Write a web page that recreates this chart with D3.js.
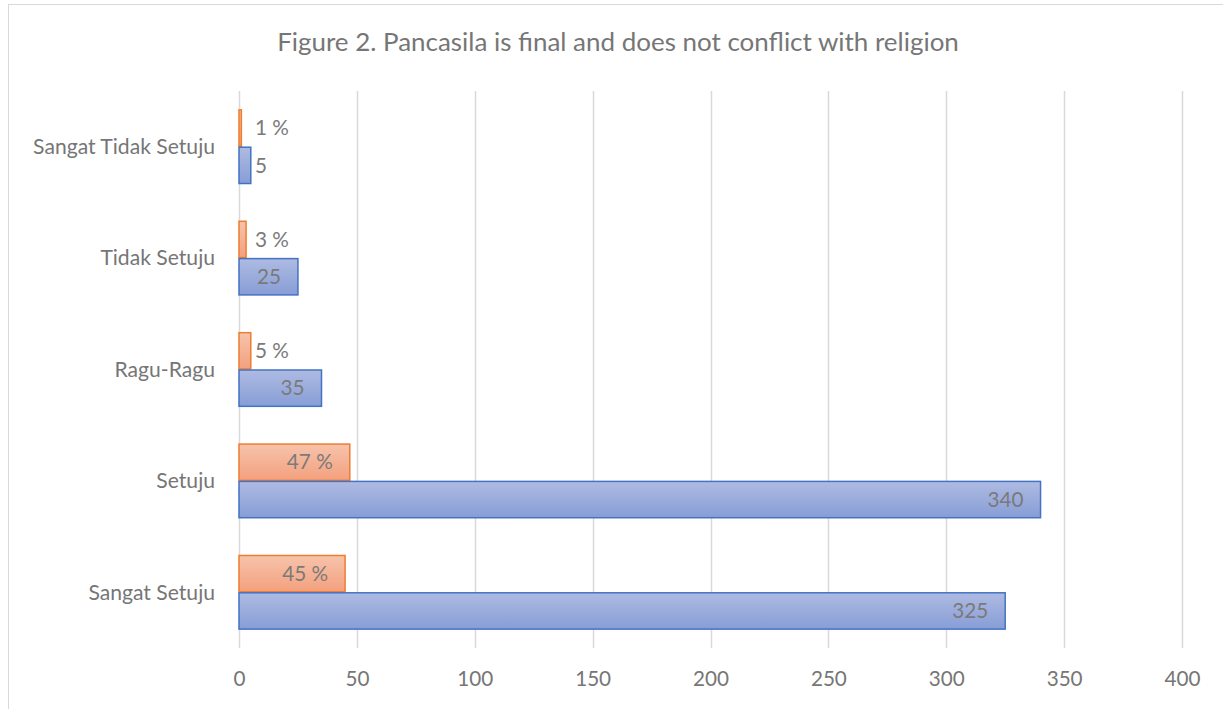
<!DOCTYPE html>
<html><head><meta charset="utf-8">
<script src="https://cdn.jsdelivr.net/npm/d3@7"></script>
<style>body{margin:0;background:#fff;} svg{display:block;}</style>
</head><body>
<svg id="c" width="1223" height="709"></svg>
<script>
const title = "Figure 2. Pancasila is final and does not conflict with religion";
const categories = ["Sangat Tidak Setuju","Tidak Setuju","Ragu-Ragu","Setuju","Sangat Setuju"];
const counts = [5, 25, 35, 340, 325];
const percents = [1, 3, 5, 47, 45];
const ticks = [0,50,100,150,200,250,300,350,400];

const svg = d3.select("#c");
const FONT = "Lato, 'Open Sans', sans-serif";
const TXT = "#767676";

// helper: font size giving a target width for a sample string
function fitSize(sample, targetW){
  const t = svg.append("text").attr("font-family",FONT).attr("font-size",20).text(sample);
  const w = t.node().getComputedTextLength(); t.remove();
  return 20*targetW/w;
}
const catSize = fitSize("Sangat Tidak Setuju", 182);
const tickSize = fitSize("400", 36);
const labSize = fitSize("47 %", 46);
const titleSize = fitSize(title, 682);

const defs = svg.append("defs");
const gb = defs.append("linearGradient").attr("id","gb").attr("x1",0).attr("y1",0).attr("x2",0).attr("y2",1);
gb.append("stop").attr("offset","0%").attr("stop-color","#aebbe2");
gb.append("stop").attr("offset","100%").attr("stop-color","#879dd6");
const go = defs.append("linearGradient").attr("id","go").attr("x1",0).attr("y1",0).attr("x2",0).attr("y2",1);
go.append("stop").attr("offset","0%").attr("stop-color","#f7c3ab");
go.append("stop").attr("offset","100%").attr("stop-color","#f3a07e");

// chart frame
svg.append("rect").attr("x",8.5).attr("y",4.5).attr("width",1230).attr("height",720)
  .attr("fill","#fff").attr("stroke","#d9d9d9").attr("stroke-width",1);

const x = d3.scaleLinear().domain([0,400]).range([239,1182]);
const y = d3.scaleBand().domain(categories).range([91,648]).paddingInner(0.33).paddingOuter(0.165);

// gridlines
svg.append("g").selectAll("line").data(ticks).join("line")
  .attr("x1",d=>Math.round(x(d))+0.5).attr("x2",d=>Math.round(x(d))+0.5)
  .attr("y1",91).attr("y2",648).attr("stroke","#d9d9d9").attr("stroke-width",1.5);

// tick labels
const xa = d3.axisBottom(x).tickValues(ticks).tickSize(0).tickPadding(0);
const gx = svg.append("g").attr("transform","translate(0,672)").call(xa);
gx.select(".domain").remove();
gx.selectAll("text").attr("font-family",FONT).attr("font-size",tickSize).attr("fill",TXT).attr("dy","0.35em").attr("y",7);

// category labels
svg.append("g").selectAll("text").data(categories).join("text")
  .attr("x",215).attr("y",d=>y(d)+y.bandwidth()/2).attr("dy","0.35em")
  .attr("text-anchor","end").attr("font-family",FONT).attr("font-size",catSize).attr("fill",TXT).text(d=>d);

const half = y.bandwidth()/2;
function drawSeries(vals, fill, stroke, top, fmt){
  const g = svg.append("g");
  g.selectAll("rect").data(vals).join("rect")
    .attr("x",x(0)).attr("y",(d,i)=>y(categories[i])+(top?0:half)+0.5)
    .attr("width",d=>x(d)-x(0)).attr("height",half-1)
    .attr("fill",fill).attr("stroke",stroke).attr("stroke-width",1.5);
  const lab = svg.append("g").selectAll("text").data(vals).join("text")
    .attr("y",(d,i)=>y(categories[i])+(top?0:half)+half/2).attr("dy","0.35em")
    .attr("font-family",FONT).attr("font-size",labSize).attr("fill","#7a7a7a")
    .attr("text-anchor","start").text(fmt);
  lab.each(function(d){
    const w = this.getComputedTextLength();
    let left = x(d) - 17 - w;
    if (left < x(0) + 16) left = x(0) + 16;
    d3.select(this).attr("x", left);
  });
}
drawSeries(percents, "url(#go)", "#ed7d31", true, d=>d+" %");
drawSeries(counts, "url(#gb)", "#4472c4", false, d=>String(d));

// title
svg.append("text").attr("x",618).attr("y",42).attr("dy","0.35em").attr("text-anchor","middle")
  .attr("font-family",FONT).attr("font-size",titleSize).attr("fill",TXT).text(title);
</script>
</body></html>
